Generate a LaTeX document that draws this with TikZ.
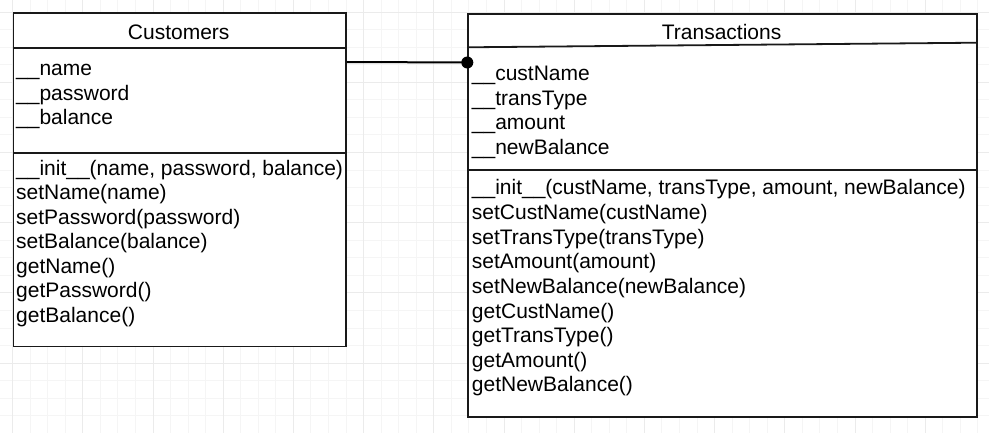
\documentclass[tikz,border=0pt]{standalone}
\usepackage{fontspec}
\setmainfont{Liberation Sans}
\usetikzlibrary{calc}
\tikzset{
  minorgrid/.style={draw=black!4, line width=0.8pt},
  majorgrid/.style={draw=black!8, line width=0.8pt},
  umlbox/.style={draw=black!90, line width=1.8pt, fill=white, anchor=north west, inner sep=0pt},
  sepline/.style={draw=black!90, line width=1.8pt},
  member/.style={anchor=base west, inner sep=0pt, font=\fontsize{21}{24}\selectfont},
  title/.style={anchor=base, inner sep=0pt, font=\fontsize{21}{24}\selectfont},
  conn/.style={draw=black, line width=2pt},
}
\begin{document}
\begin{tikzpicture}[x=1pt,y=-1pt]
\useasboundingbox (0,0) rectangle (989,433);
\fill[white] (0,0) rectangle (989,433);
% grid
\foreach \k in {0,...,55} {
  \pgfmathsetmacro\xx{12.5+\k*17.55}
  \draw[minorgrid] (\xx,0) -- (\xx,433);
}
\foreach \k in {0,...,24} {
  \pgfmathsetmacro\yy{12+\k*17.55}
  \draw[minorgrid] (0,\yy) -- (989,\yy);
}
\foreach \k in {0,...,13} {
  \pgfmathsetmacro\xx{12.5+\k*70.2}
  \draw[majorgrid] (\xx,0) -- (\xx,433);
}
\foreach \k in {0,...,6} {
  \pgfmathsetmacro\yy{12+\k*70.2}
  \draw[majorgrid] (0,\yy) -- (989,\yy);
}

% Customers
\node[umlbox, minimum width=332.5pt, minimum height=333pt] (cust) at (12.5,12.5) {};
\draw[sepline] ([yshift=-35.2pt]cust.north west) -- ([yshift=-35.2pt]cust.north east);
\draw[sepline] ([yshift=-140.8pt]cust.north west) -- ([yshift=-140.8pt]cust.north east);
\node[title] (custtitle) at (178.7,39.4) {Customers};
\node[member] (ca1) at (16,76) {\_\_name};
\node[member] (ca2) at (16,100.4) {\_\_password};
\node[member] (ca3) at (16,124.8) {\_\_balance};
\node[member] (cm1) at (16,175.3) {\_\_init\_\_(name, password, balance)};
\node[member] (cm2) at (16,199.8) {setName(name)};
\node[member] (cm3) at (16,224.2) {setPassword(password)};
\node[member] (cm4) at (16,248.7) {setBalance(balance)};
\node[member] (cm5) at (16,273.1) {getName()};
\node[member] (cm6) at (16,297.6) {getPassword()};
\node[member] (cm7) at (16,322) {getBalance()};

% Transactions
\node[umlbox, minimum width=508.7pt, minimum height=403pt] (trans) at (467.3,13) {};
\draw[sepline] ([yshift=-34.3pt]trans.north west) -- ([yshift=-29.7pt]trans.north east);
\draw[sepline] ([yshift=-157.3pt]trans.north west) -- ([yshift=-157.3pt]trans.north east);
\node[title] (transtitle) at (721.6,39.4) {Transactions};
\node[member] (ta1) at (471.7,81) {\_\_custName};
\node[member] (ta2) at (471.7,105.5) {\_\_transType};
\node[member] (ta3) at (471.7,130) {\_\_amount};
\node[member] (ta4) at (471.7,154.5) {\_\_newBalance};
\node[member] (tm1) at (471.7,195) {\_\_init\_\_(custName, transType, amount, newBalance)};
\node[member] (tm2) at (471.7,219.6) {setCustName(custName)};
\node[member] (tm3) at (471.7,244.2) {setTransType(transType)};
\node[member] (tm4) at (471.7,268.8) {setAmount(amount)};
\node[member] (tm5) at (471.7,293.4) {setNewBalance(newBalance)};
\node[member] (tm6) at (471.7,318) {getCustName()};
\node[member] (tm7) at (471.7,342.6) {getTransType()};
\node[member] (tm8) at (471.7,367.2) {getAmount()};
\node[member] (tm9) at (471.7,391.8) {getNewBalance()};

% connector
\coordinate (cend) at ($(trans.north west)+(0,49.5)$);
\draw[conn] ($(cust.north east)+(0,49.5)$) -- (cend);
\fill[black] (cend) circle (6);
\end{tikzpicture}
\end{document}
